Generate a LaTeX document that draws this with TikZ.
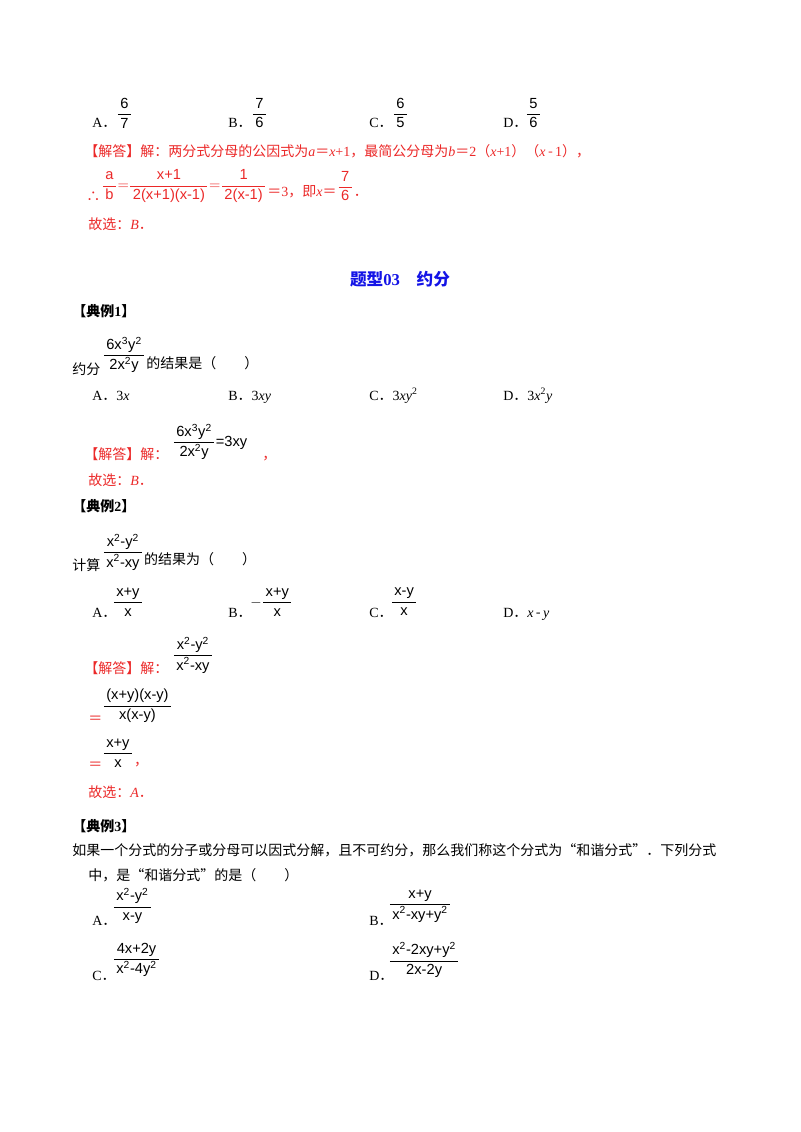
\documentclass[tikz,border=0pt]{standalone}
\usepackage{fontspec}
\setmainfont{Liberation Serif}
\setsansfont{Liberation Sans}
\newfontfamily\cjk{Noto Sans CJK SC}
\newcommand\fr[2]{$\displaystyle\frac{\hbox{\sffamily\,#1\,}}{\hbox{\sffamily\,#2\,}}$}
\newcommand\su[1]{\textsuperscript{#1}}
\newcommand\RM[1]{{\rmfamily #1}}
\newcommand\IT[1]{{\rmfamily\itshape #1}}
\definecolor{ans}{RGB}{235,40,40}
\definecolor{ttl}{RGB}{20,20,230}
\begin{document}
\begin{tikzpicture}[x=0.75pt,y=-0.75pt,
  t/.style={anchor=base west,inner sep=0pt,font=\fontsize{10.5pt}{12pt}\selectfont\cjk},
  r/.style={t,text=ans},
  f/.style={anchor=west,inner sep=0pt,font=\fontsize{11pt}{13pt}\selectfont}]
\useasboundingbox (0,0) rectangle (800,1132);
% Q row 1
\node[t] (a1) at (92,127) {\RM{A}．}; \node[f] (fa1) at (116,113) {\fr{6}{7}};
\node[t] (b1) at (228,127) {\RM{B}．}; \node[f] (fb1) at (251,113) {\fr{7}{6}};
\node[t] (c1) at (369,127) {\RM{C}．}; \node[f] (fc1) at (392,113) {\fr{6}{5}};
\node[t] (d1) at (503,127) {\RM{D}．}; \node[f] (fd1) at (525,113) {\fr{5}{6}};
\node[r] (s1) at (84,156) {【解答】解：两分式分母的公因式为\IT{a}＝\IT{x}\RM{+1}，最简公分母为\IT{b}＝\RM{2}（\IT{x}\RM{+1}）（\IT{x}\,-\,\RM{1}），};
\node[r] (s2) at (86,201) {∴};
\node[f,text=ans] (s2f) at (101,186) {\fr{a}{b}$=$\fr{x+1}{2(x+1)(x-1)}$=$\fr{1}{2(x-1)}};
\node[r] (s2b) at (s2f.east|-s2) {＝\RM{3}，即\IT{x}＝};
\node[f,text=ans] (s2g) at (s2b.east|-s2f) {\fr{7}{6}};
\node[r] (s2c) at (s2g.east|-s2) {．};
\node[r] (g1) at (88,229) {故选：\IT{B}．};
% title
\node[anchor=base,inner sep=0pt,text=ttl,font=\fontsize{12.5pt}{14pt}\selectfont\bfseries\cjk] (title) at (400,285) {题型\RM{03}\quad 约分};
% example 1
\node[t,font=\fontsize{10.5pt}{12pt}\selectfont\bfseries\cjk] (e1) at (72,316) {【典例\RM{1}】};
\node[t] (q1a) at (72,374) {约分};
\node[f] (q1f) at (102,355) {\fr{6x\su{3}y\su{2}}{2x\su{2}y}};
\node[t] (q1b) at (q1f.east|-q1a) {的结果是（　　）};
\node[t] (a2) at (92,400) {\RM{A}．\RM{3}\IT{x}};
\node[t] (b2) at (228,400) {\RM{B}．\RM{3}\IT{xy}};
\node[t] (c2) at (369,400) {\RM{C}．\RM{3}\IT{xy}\su{\RM{2}}};
\node[t] (d2) at (503,400) {\RM{D}．\RM{3}\IT{x}\su{\RM{2}}\IT{y}};
\node[r] (s3) at (84,459) {【解答】解：};
\node[f] (s3f) at (172,442) {\fr{6x\su{3}y\su{2}}{2x\su{2}y}\hbox{\sffamily =3xy}};
\node[r] (s3c) at (262,459) {，};
\node[r] (g2) at (88,485) {故选：\IT{B}．};
% example 2
\node[t,font=\fontsize{10.5pt}{12pt}\selectfont\bfseries\cjk] (e2) at (72,511) {【典例\RM{2}】};
\node[t] (q2a) at (72,570) {计算};
\node[f] (q2f) at (102,552) {\fr{x\su{2}-y\su{2}}{x\su{2}-xy}};
\node[t] (q2b) at (q2f.east|-q2a) {的结果为（　　）};
\node[t] (a3) at (92,617) {\RM{A}．}; \node[f] (fa3) at (112,602) {\fr{x+y}{x}};
\node[t] (b3) at (228,617) {\RM{B}．}; \node[f] (fb3) at (250,602) {$-$\fr{x+y}{x}};
\node[t] (c3) at (369,617) {\RM{C}．}; \node[f] (fc3) at (390,602) {\fr{x-y}{x}};
\node[t] (d3) at (503,617) {\RM{D}．\IT{x}\,-\,\IT{y}};
\node[r] (s4) at (84,673) {【解答】解：};
\node[f] (s4f) at (172,655) {\fr{x\su{2}-y\su{2}}{x\su{2}-xy}};
\node[r] (eq1) at (88,723) {＝};
\node[f] (s5f) at (102,706) {\fr{(x+y)(x-y)}{x(x-y)}};
\node[r] (eq2) at (88,769) {＝};
\node[f] (s6f) at (102,753) {\fr{x+y}{x}};
\node[r] (s6c) at (s6f.east|-eq2) {，};
\node[r] (g3) at (88,797) {故选：\IT{A}．};
% example 3
\node[t,font=\fontsize{10.5pt}{12pt}\selectfont\bfseries\cjk] (e3) at (72,831) {【典例\RM{3}】};
\node[t] (q3a) at (72,855) {如果一个分式的分子或分母可以因式分解，且不可约分，那么我们称这个分式为“和谐分式”．下列分式};
\node[t] (q3b) at (88,880) {中，是“和谐分式”的是（　　）};
\node[t] (a4) at (92,925) {\RM{A}．}; \node[f] (fa4) at (112,906) {\fr{x\su{2}-y\su{2}}{x-y}};
\node[t] (b4) at (369,925) {\RM{B}．}; \node[f] (fb4) at (388,906) {\fr{x+y}{x\su{2}-xy+y\su{2}}};
\node[t] (c4) at (92,980) {\RM{C}．}; \node[f] (fc4) at (112,960) {\fr{4x+2y}{x\su{2}-4y\su{2}}};
\node[t] (d4) at (369,980) {\RM{D}．}; \node[f] (fd4) at (388,960) {\fr{x\su{2}-2xy+y\su{2}}{2x-2y}};
\end{tikzpicture}
\end{document}
